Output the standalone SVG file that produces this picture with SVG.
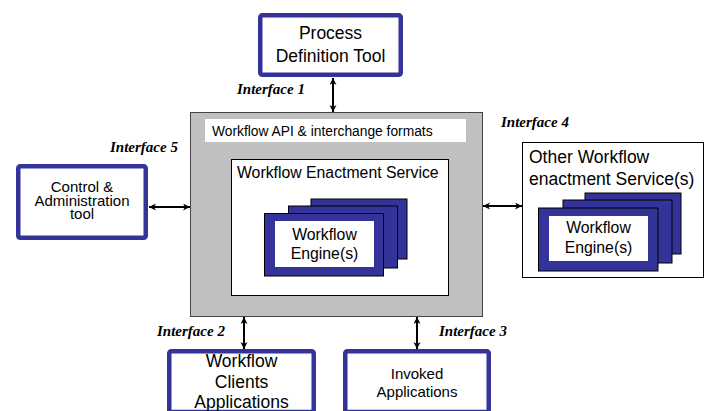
<svg xmlns="http://www.w3.org/2000/svg" width="711" height="411" viewBox="0 0 711 411">
  <defs>
    <marker id="ah" markerUnits="userSpaceOnUse" markerWidth="8" markerHeight="8" refX="7" refY="3.5" orient="auto-start-reverse">
      <path d="M0,0 L7,3.5 L0,7 L2,3.5 z" fill="#000"/>
    </marker>
  </defs>
  <style>
    .sans { font-family: "Liberation Sans", Arial, sans-serif; fill: #000; }
    .iface { font-family: "Liberation Serif", "Times New Roman", serif; font-weight: bold; font-style: italic; font-size: 15px; fill: #000; }
    .bluebox { fill: #fff; stroke: #333399; stroke-width: 4.5; }
    .thin { fill: #fff; stroke: #000; stroke-width: 1; }
    .eng { fill: #333399; stroke: #000; stroke-width: 1; }
    .conn { stroke: #000; stroke-width: 2; fill: none; marker-start: url(#ah); marker-end: url(#ah); }
  </style>
  <rect width="711" height="411" fill="#fff"/>

  <g id="process-definition-tool">
    <rect class="bluebox" x="260.25" y="15.25" width="140.5" height="59.5" rx="2"/>
    <text class="sans" font-size="17.5" text-anchor="middle" x="330.5" y="39">Process</text>
    <text class="sans" font-size="17.5" text-anchor="middle" x="330.5" y="62">Definition Tool</text>
  </g>

  <g id="workflow-api">
    <rect x="190.5" y="112.5" width="292" height="204" fill="#c0c0c0" stroke="#444" stroke-width="1"/>
    <rect x="205" y="119" width="261" height="23" fill="#fff"/>
    <text class="sans" font-size="13.8" x="212" y="136">Workflow API &amp; interchange formats</text>
  </g>

  <g id="workflow-enactment-service">
    <rect class="thin" x="231.5" y="159.5" width="217" height="136"/>
    <text class="sans" font-size="15.8" x="237" y="178">Workflow Enactment Service</text>
  </g>

  <g id="workflow-engines">
    <rect class="eng" x="311" y="199" width="96" height="60"/>
    <rect class="eng" x="288.5" y="206" width="109" height="62"/>
    <rect class="eng" x="264.5" y="213.5" width="119" height="62.5"/>
    <rect x="275" y="221" width="99" height="46" fill="#fff"/>
    <text class="sans" font-size="15.8" text-anchor="middle" x="324.5" y="240">Workflow</text>
    <text class="sans" font-size="15.8" text-anchor="middle" x="324.5" y="259">Engine(s)</text>
  </g>

  <g id="control-administration-tool">
    <rect class="bluebox" x="18.25" y="166.25" width="127.5" height="71.5" rx="2"/>
    <text class="sans" font-size="15" text-anchor="middle" x="82" y="192">Control &amp;</text>
    <text class="sans" font-size="15" text-anchor="middle" x="82" y="206">Administration</text>
    <text class="sans" font-size="15" text-anchor="middle" x="82" y="219">tool</text>
  </g>

  <g id="other-workflow-enactment">
    <rect class="thin" x="522.5" y="142.5" width="181" height="135"/>
    <text class="sans" font-size="17.5" x="529" y="163">Other Workflow</text>
    <text class="sans" font-size="17.5" x="529" y="185">enactment Service(s)</text>
  </g>

  <g id="other-workflow-engines">
    <rect class="eng" x="585" y="193" width="96" height="61"/>
    <rect class="eng" x="563" y="200" width="109" height="63"/>
    <rect class="eng" x="538.5" y="208" width="119.5" height="63"/>
    <rect x="549" y="216" width="99" height="45" fill="#fff"/>
    <text class="sans" font-size="15.8" text-anchor="middle" x="598.5" y="233">Workflow</text>
    <text class="sans" font-size="15.8" text-anchor="middle" x="598.5" y="253">Engine(s)</text>
  </g>

  <g id="workflow-clients-applications">
    <rect class="bluebox" x="169.25" y="351.25" width="144.5" height="60.75" rx="2"/>
    <text class="sans" font-size="17.5" text-anchor="middle" x="241.5" y="367">Workflow</text>
    <text class="sans" font-size="17.5" text-anchor="middle" x="241.5" y="388">Clients</text>
    <text class="sans" font-size="17.5" text-anchor="middle" x="241.5" y="408">Applications</text>
  </g>

  <g id="invoked-applications">
    <rect class="bluebox" x="345.25" y="351.25" width="143.5" height="60.75" rx="2"/>
    <text class="sans" font-size="15" text-anchor="middle" x="417" y="379">Invoked</text>
    <text class="sans" font-size="15" text-anchor="middle" x="417" y="397">Applications</text>
  </g>

  <g id="connectors">
    <line class="conn" x1="333" y1="78" x2="333" y2="112"/>
    <line class="conn" x1="149" y1="207" x2="190" y2="207"/>
    <line class="conn" x1="483" y1="206" x2="522" y2="206"/>
    <line class="conn" x1="244" y1="317" x2="244" y2="349"/>
    <line class="conn" x1="417" y1="317" x2="417" y2="349"/>
  </g>

  <g id="interface-labels">
    <text class="iface" x="237" y="94">Interface 1</text>
    <text class="iface" x="110" y="152">Interface 5</text>
    <text class="iface" x="501" y="127">Interface 4</text>
    <text class="iface" x="157" y="336">Interface 2</text>
    <text class="iface" x="439" y="336">Interface 3</text>
  </g>
</svg>
